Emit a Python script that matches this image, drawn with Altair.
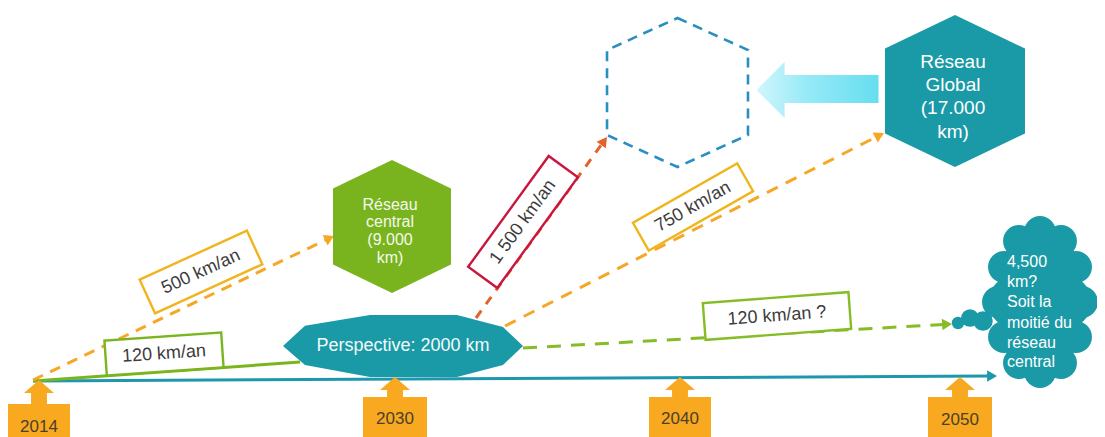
import math
import altair as alt
import pandas as pd

W, H = 1089, 429
XS = alt.Scale(domain=[8, 8 + W], nice=False, zero=False)
YS = alt.Scale(domain=[8, 8 + H], nice=False, zero=False, reverse=True)
FONT = "Liberation Sans"

TEAL = "#1a9aa6"
LINE_TEAL = "#1d97ae"
GREEN = "#79b41f"
ORANGE = "#f8a91f"

# ---------------- data ----------------
# connecting lines (start -> end/tip)
line_names = ["timeline", "vert_120", "orange_500", "red_1500", "orange_750", "vert_120q"]
line_x1 = [33, 33, 33, 476, 505, 523]
line_y1 = [381, 381, 380, 318, 326, 348]
line_x2 = [997, 300, 334, 607, 884, 952]
line_y2 = [376, 362, 236, 137, 133, 324]
line_color = [LINE_TEAL, "#7ab51d", "#f6a726", "#e2622a", "#f6a726", "#86bc25"]
line_dash = [None, None, [11, 8], [9, 8], [12, 9], [14, 10]]
line_arrow = [True, False, True, True, True, True]

# year markers
years = ["2014", "2030", "2040", "2050"]
year_x = [39, 395, 680, 960]
year_tip = [380, 377, 377, 377]
year_box_top = [404, 397, 397, 397]
year_text_y = [427, 419, 419, 420]
year_half_w = [31, 32, 31, 32]

# hexagons
hex_names = ["central", "vide", "global"]
hex_cx = [392, 677.5, 955]
hex_cy = [226.5, 92.5, 91]
hex_half_h = [66.5, 74.5, 76]
hex_half_w = [59, 70.5, 70]
hex_half_side = [38, 42.5, 42.5]

# labelled boxes
box_labels = ["120 km/an", "500 km/an", "1 500 km/an", "750 km/an", "120 km/an ?"]
box_cx = [164, 201, 523, 693, 777]
box_cy = [354, 272, 222, 207, 316]
box_len = [117, 118, 137, 120, 146]
box_thick = [35, 37, 36, 32, 37]
box_angle = [356.1, 335.4, 306.0, 330.4, 355.7]
box_color = ["#7ab51d", "#f2b41e", "#c8163c", "#efb51c", "#86bc25"]

# texts inside shapes
central_lines = ["Réseau", "central", "(9.000", "km)"]
central_y = [205, 222, 240, 258]
global_lines = ["Réseau", "Global", "(17.000", "km)"]
global_y = [62, 85, 108, 132]
cloud_lines = ["4,500", "km?", "Soit la", "moitié du", "réseau", "central"]
cloud_y = [262, 282, 302, 323, 343, 362]

# cloud built from bubbles (cx, cy, r): rim bumps, inner fill, small puffs
cloud_cx = [1040, 1061, 1076, 1082, 1076, 1061, 1040, 1019, 1004, 998, 1004, 1019,
            1040, 1040, 1040, 1015, 1065,
            958, 970, 983]
cloud_cy = [232, 241, 267, 302, 337, 363, 372, 363, 337, 302, 267, 241,
            262, 302, 342, 302, 302,
            323, 318, 321]
cloud_r = [18, 18, 18, 18, 18, 18, 18, 18, 18, 18, 18, 18,
           40, 45, 40, 30, 30,
           7, 10, 11]


def X(f="x"):
    return alt.X(f"{f}:Q", scale=XS, axis=None)


def Y(f="y"):
    return alt.Y(f"{f}:Q", scale=YS, axis=None)


layers = []

# ---------------- lines + arrowheads ----------------
arrow_rows = []
for i, name in enumerate(line_names):
    x1, y1, x2, y2 = line_x1[i], line_y1[i], line_x2[i], line_y2[i]
    dx, dy = x2 - x1, y2 - y1
    L = math.hypot(dx, dy)
    ux, uy = dx / L, dy / L
    ex, ey = x2, y2
    if line_arrow[i]:
        size = 130
        r = math.sqrt(size) / 2
        h = r * math.sqrt(3) / 2
        ex, ey = x2 - ux * 1.6 * h, y2 - uy * 1.6 * h
        arrow_rows.append(dict(x=x2 - ux * h, y=y2 - uy * h,
                               angle=math.degrees(math.atan2(ux, -uy)) % 360,
                               color=line_color[i], size=size))
    df = pd.DataFrame([dict(x=x1, y=y1, x2=ex, y2=ey)])
    kw = dict(color=line_color[i], strokeWidth=3, strokeCap="butt")
    if line_dash[i]:
        kw["strokeDash"] = line_dash[i]
    layers.append(alt.Chart(df).mark_rule(**kw).encode(
        x=X(), y=Y(), x2=alt.X2("x2:Q"), y2=alt.Y2("y2:Q")))

arrows_df = pd.DataFrame(arrow_rows)
layers.append(alt.Chart(arrows_df).mark_point(shape="triangle-up", filled=True, opacity=1).encode(
    x=X(), y=Y(),
    angle=alt.Angle("angle:Q", scale=None),
    fill=alt.Fill("color:N", scale=None),
    size=alt.Size("size:Q", scale=None)))

# ---------------- big light-cyan arrow ----------------
ARROW_PATH = ("M-1,0L-0.54,-0.46L-0.54,-0.245L1,-0.245L1,0.215L-0.54,0.215"
              "L-0.54,0.46Z")
big_arrow = pd.DataFrame([dict(x=817.5, y=90)])
layers.append(alt.Chart(big_arrow).mark_point(
    shape=ARROW_PATH, size=122 ** 2, filled=True, opacity=1, strokeWidth=0,
    fill=alt.LinearGradient(gradient="linear",
                            stops=[alt.GradientStop(color="#d2f6fc", offset=0),
                                   alt.GradientStop(color="#98eaf7", offset=0.4),
                                   alt.GradientStop(color="#66def0", offset=1)],
                            x1=0, x2=1, y1=0, y2=0)).encode(x=X(), y=Y()))

# ---------------- hexagons ----------------
hex_rows = []
for i, n in enumerate(hex_names):
    a = hex_half_w[i] / hex_half_h[i]
    s = hex_half_side[i] / hex_half_h[i]
    path = (f"M0,-1L{a:.3f},{-s:.3f}L{a:.3f},{s:.3f}L0,1L{-a:.3f},{s:.3f}"
            f"L{-a:.3f},{-s:.3f}Z")
    hex_rows.append(dict(name=n, x=hex_cx[i], y=hex_cy[i], path=path,
                         size=(2 * hex_half_h[i]) ** 2))
hex_df = pd.DataFrame(hex_rows)

layers.append(alt.Chart(hex_df[hex_df.name == "central"]).mark_point(
    filled=True, opacity=1, fill=GREEN, strokeWidth=0).encode(
    x=X(), y=Y(), shape=alt.Shape("path:N", scale=None),
    size=alt.Size("size:Q", scale=None)))
layers.append(alt.Chart(hex_df[hex_df.name == "global"]).mark_point(
    filled=True, opacity=1, fill=TEAL, strokeWidth=0).encode(
    x=X(), y=Y(), shape=alt.Shape("path:N", scale=None),
    size=alt.Size("size:Q", scale=None)))
layers.append(alt.Chart(hex_df[hex_df.name == "vide"]).mark_point(
    filled=False, opacity=1, stroke="#2a8ec2", strokeWidth=2.6,
    strokeDash=[10, 7]).encode(
    x=X(), y=Y(), shape=alt.Shape("path:N", scale=None),
    size=alt.Size("size:Q", scale=None)))

# ---------------- perspective shape ----------------
PERSP_PATH = ("M-1,0L-0.817,-0.168L-0.275,-0.258L0.45,-0.258L0.833,-0.158L1,0"
              "L0.833,0.158L0.45,0.258L-0.275,0.258L-0.817,0.158Z")
persp = pd.DataFrame([dict(x=403, y=346, label="Perspective: 2000 km")])
layers.append(alt.Chart(persp).mark_point(
    shape=PERSP_PATH, size=240 ** 2, filled=True, opacity=1, fill=TEAL,
    strokeWidth=0).encode(x=X(), y=Y()))

# ---------------- cloud ----------------
cloud_df = pd.DataFrame(dict(x=cloud_cx, y=cloud_cy,
                             size=[math.pi * r * r for r in cloud_r]))
layers.append(alt.Chart(cloud_df).mark_circle(opacity=1, color=TEAL).encode(
    x=X(), y=Y(), size=alt.Size("size:Q", scale=None)))

# ---------------- year markers ----------------
YEAR_PATH = "M0,-0.733L1,0.133L0.53,0.133L0.53,1L-0.53,1L-0.53,0.133L-1,0.133Z"
year_df = pd.DataFrame(dict(
    year=years, x=year_x, yc=[t + 11 for t in year_tip],
    bx1=[x - w for x, w in zip(year_x, year_half_w)],
    bx2=[x + w for x, w in zip(year_x, year_half_w)],
    by1=year_box_top, by2=[440] * len(years), ty=year_text_y))
layers.append(alt.Chart(year_df).mark_point(
    shape=YEAR_PATH, size=30 ** 2, filled=True, opacity=1, fill=ORANGE,
    strokeWidth=0).encode(x=X(), y=Y("yc")))
layers.append(alt.Chart(year_df).mark_rect(color=ORANGE).encode(
    x=X("bx1"), x2=alt.X2("bx2:Q"), y=Y("by1"), y2=alt.Y2("by2:Q")))
layers.append(alt.Chart(year_df).mark_text(
    font=FONT, fontSize=17, color="#4b3f2a", baseline="middle").encode(
    x=X(), y=Y("ty"), text="year:N"))

# ---------------- labelled boxes ----------------
box_df = pd.DataFrame(dict(
    label=box_labels, x=box_cx, y=box_cy, angle=box_angle, color=box_color,
    size=[l ** 2 for l in box_len],
    path=[f"M-1,{-t / l:.3f}L1,{-t / l:.3f}L1,{t / l:.3f}L-1,{t / l:.3f}Z"
          for l, t in zip(box_len, box_thick)]))
layers.append(alt.Chart(box_df).mark_point(
    filled=True, opacity=1, fill="white", strokeWidth=2.4).encode(
    x=X(), y=Y(), shape=alt.Shape("path:N", scale=None),
    size=alt.Size("size:Q", scale=None),
    angle=alt.Angle("angle:Q", scale=None),
    stroke=alt.Stroke("color:N", scale=None)))
layers.append(alt.Chart(box_df).mark_text(
    font=FONT, fontSize=18, color="#3c3c3c", baseline="middle", align="center").encode(
    x=X(), y=Y(), text="label:N", angle=alt.Angle("angle:Q", scale=None)))

# ---------------- texts inside shapes ----------------
layers.append(alt.Chart(persp).mark_text(
    font=FONT, fontSize=18, color="#f2fafa", baseline="middle").encode(
    x=X(), y=Y(), text="label:N"))

central_df = pd.DataFrame(dict(t=central_lines, y=central_y, x=[390] * 4))
layers.append(alt.Chart(central_df).mark_text(
    font=FONT, fontSize=16, color="#f4f9ec", baseline="middle").encode(
    x=X(), y=Y(), text="t:N"))

global_df = pd.DataFrame(dict(t=global_lines, y=global_y, x=[953] * 4))
layers.append(alt.Chart(global_df).mark_text(
    font=FONT, fontSize=19, color="white", baseline="middle").encode(
    x=X(), y=Y(), text="t:N"))

cloud_t_df = pd.DataFrame(dict(t=cloud_lines, y=cloud_y, x=[1007] * 6))
layers.append(alt.Chart(cloud_t_df).mark_text(
    font=FONT, fontSize=16, color="white", baseline="middle", align="left").encode(
    x=X(), y=Y(), text="t:N"))

chart = alt.layer(*layers).properties(
    width=W, height=H, padding=0, background="white",
    autosize=alt.AutoSizeParams(type="none")
).configure_view(stroke=None)

chart.save("out.html", embed_options={"renderer": "svg", "actions": False})
